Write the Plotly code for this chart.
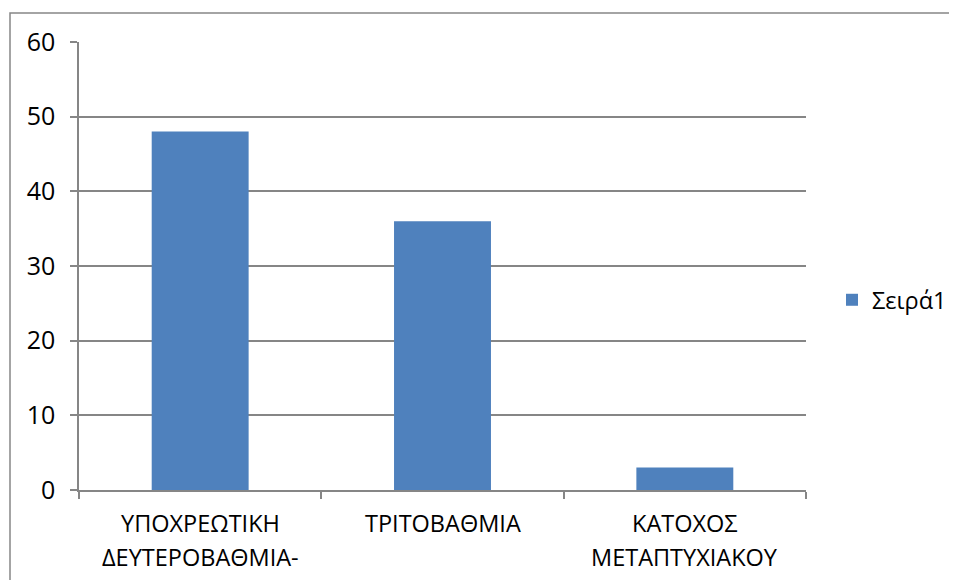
import plotly.graph_objects as go

categories = ["ΥΠΟΧΡΕΩΤΙΚΗ\nΔΕΥΤΕΡΟΒΑΘΜΙΑ-", "ΤΡΙΤΟΒΑΘΜΙΑ", "ΚΑΤΟΧΟΣ\nΜΕΤΑΠΤΥΧΙΑΚΟΥ"]
values = [48, 36, 3]
series_name = "Σειρά1"
y_ticks = [0, 10, 20, 30, 40, 50, 60]

FONT = "Open Sans"
GRAY = "#868686"

OFF = 8  # browser body margin
W, H = 957, 580
pw, ph = 727, 448
L, T = 79 - OFF, 42 - OFF
R, B = W - L - pw, H - T - ph

fig = go.Figure()
fig.add_trace(go.Bar(
    x=categories, y=values, name=series_name,
    marker=dict(color="#4F81BD", line=dict(width=0)),
    width=0.4, showlegend=True,
))

annotations = []
for cat in categories:
    lines = cat.split("\n")
    for i, ln in enumerate(lines):
        annotations.append(dict(
            x=cat, xref="x", y=0, yref="paper", yanchor="middle",
            xanchor="center", yshift=-(33 + 34 * i), text=ln, showarrow=False,
            font=dict(family=FONT, size=23.5, color="#000000"),
        ))

def px_x(p):
    return (p - 79) / pw

def px_y(p):
    return (490 - p) / ph

fig.update_layout(
    width=W, height=H,
    margin=dict(l=L, r=R, t=T, b=B, pad=0),
    paper_bgcolor="white", plot_bgcolor="white",
    font=dict(family=FONT, size=23, color="#000000"),
    showlegend=True,
    legend=dict(x=px_x(832), y=px_y(300), xanchor="left", yanchor="middle",
                font=dict(family=FONT, size=23.5, color="#000000"),
                bgcolor="rgba(0,0,0,0)"),
    xaxis=dict(
        type="category", showticklabels=False, ticks="outside", ticklen=7,
        tickcolor=GRAY, tickwidth=1.5, tickson="boundaries",
        showline=True, linecolor=GRAY, linewidth=1.5, showgrid=False,
        zeroline=False,
    ),
    yaxis=dict(
        range=[0, 60], tickvals=y_ticks, ticks="outside", ticklen=7,
        tickcolor=GRAY, tickwidth=1.5, showline=True, linecolor=GRAY,
        linewidth=1.5, showgrid=True, gridcolor=GRAY, gridwidth=1.5,
        zeroline=False, ticklabelstandoff=10,
        tickfont=dict(family=FONT, size=25, color="#000000"),
    ),
    annotations=annotations,
    shapes=[dict(
        type="rect", xref="paper", yref="paper",
        x0=px_x(10), x1=px_x(990), y0=px_y(620), y1=px_y(13),
        line=dict(color=GRAY, width=1.5), fillcolor="rgba(0,0,0,0)", layer="below",
    )],
)

fig.write_html("out.html")
